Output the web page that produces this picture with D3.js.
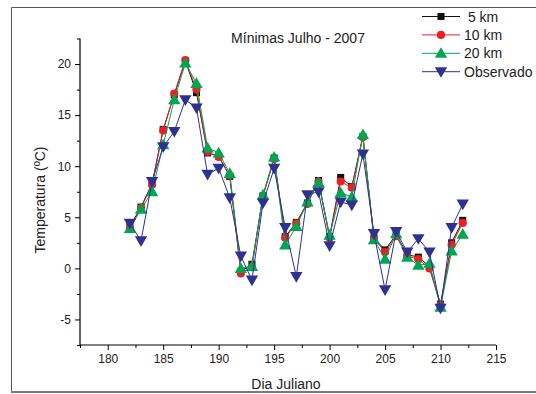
<!DOCTYPE html>
<html>
<head>
<meta charset="utf-8">
<script src="https://cdn.jsdelivr.net/npm/d3@7"></script>
<style>
  html, body { margin: 0; padding: 0; background: #fff; }
  svg { display: block; font-family: "Liberation Sans", Arial, sans-serif; }
</style>
</head>
<body>
<svg id="chart" width="536" height="394"></svg>
<script>
// Julian days of July 2007
const days = [182,183,184,185,186,187,188,189,190,191,192,193,194,195,196,197,
              198,199,200,201,202,203,204,205,206,207,208,209,210,211,212];

// Minimum temperature (ºC) per run and observed
const km5  = [4.1,6.0,8.3,13.6,17.0,20.3,17.2,11.3,11.0,9.0,-0.3,0.4,7.1,10.8,3.1,4.5,
              6.4,8.6,3.1,8.9,8.0,12.9,3.0,1.8,3.3,1.35,1.1,0.2,-3.5,2.5,4.7];
const km10 = [3.9,5.9,8.2,13.5,17.1,20.4,17.5,11.4,10.9,9.1,-0.5,0.1,7.1,10.7,3.0,4.4,
              6.3,8.5,3.0,8.5,7.9,12.85,2.9,1.6,3.15,1.2,0.9,0.0,-3.6,2.3,4.45];
const km20 = [3.9,5.8,7.5,12.1,16.5,20.1,18.1,11.8,11.3,9.3,0.0,0.2,7.2,10.9,2.3,4.1,
              6.5,8.4,3.25,7.4,7.0,13.1,2.8,0.9,3.4,1.1,0.3,0.5,-3.8,1.7,3.35];
const observado = [4.4,2.7,8.5,11.9,13.4,16.5,15.7,9.2,9.8,6.9,1.2,-1.15,6.4,9.8,4.0,-0.8,
              7.2,7.5,2.2,6.5,6.2,11.2,3.4,-2.1,3.6,1.6,2.9,1.6,-3.9,4.0,6.3];

const seriesNames = ["\u00a05 km", "10 km", "20 km", "Observado"];
const xTicks = [180,185,190,195,200,205,210,215];
const yTicks = [-5,0,5,10,15,20];

const series = [
  { name: seriesNames[0], values: km5,       color: "#111111", symbol: d3.symbolSquare,   size: 50, rot: 0 },
  { name: seriesNames[1], values: km10,      color: "#ee1c24", symbol: d3.symbolCircle,   size: 52, rot: 0 },
  { name: seriesNames[2], values: km20,      color: "#00a651", symbol: d3.symbolTriangle, size: 66, rot: 0 },
  { name: seriesNames[3], values: observado, color: "#2e3192", symbol: d3.symbolTriangle, size: 66, rot: 180 }
];

const svg = d3.select("#chart");

// outer frame
svg.append("path")
  .attr("d", "M11.5,392 L11.5,7.5 L536,7.5")
  .attr("fill", "none").attr("stroke", "#555").attr("stroke-width", 1);
svg.append("line")
  .attr("x1", 11).attr("x2", 536).attr("y1", 392).attr("y2", 392)
  .attr("stroke", "#7a7a7a").attr("stroke-width", 2);

const plotLeft = 80, plotRight = 496, plotTop = 38.5, plotBottom = 345;
const x = d3.scaleLinear().domain([177.5, 215]).range([plotLeft, plotRight]);
const y = d3.scaleLinear().domain([-7.5, 22.5]).range([plotBottom, plotTop]);

// plain hyphen for negative tick labels
const fmt = v => String(v);

// axes: major ticks with labels, minor ticks between
const xMinor = d3.range(177.5, 215.01, 2.5).filter(v => v % 5 !== 0);
const yMinor = d3.range(-7.5, 22.51, 2.5).filter(v => v % 5 !== 0);

const gx = svg.append("g").attr("transform", `translate(0,${plotBottom})`);
gx.call(d3.axisBottom(x).tickValues(xTicks).tickSize(5).tickPadding(4).tickFormat(fmt));
gx.append("g").call(d3.axisBottom(x).tickValues(xMinor).tickSize(3).tickFormat(""));

const gy = svg.append("g").attr("transform", `translate(${plotLeft},0)`);
gy.call(d3.axisLeft(y).tickValues(yTicks).tickSize(5).tickPadding(4).tickFormat(fmt));
gy.append("g").call(d3.axisLeft(y).tickValues(yMinor).tickSize(3).tickFormat(""));

svg.selectAll(".domain").remove();
svg.append("line").attr("x1", plotLeft).attr("x2", plotRight).attr("y1", plotBottom).attr("y2", plotBottom)
  .attr("stroke", "#000").attr("stroke-width", 1.2);
svg.append("line").attr("x1", plotLeft).attr("x2", plotLeft).attr("y1", plotTop).attr("y2", plotBottom)
  .attr("stroke", "#000").attr("stroke-width", 1.2);

svg.selectAll(".tick line").attr("stroke", "#000");
svg.selectAll(".tick text").attr("font-size", 12).attr("fill", "#222")
  .attr("font-family", "Liberation Sans, Arial, sans-serif");

// titles
svg.append("text").attr("x", 298).attr("y", 43).attr("text-anchor", "middle")
  .attr("font-size", 14).attr("fill", "#222").text("Mínimas Julho - 2007");
svg.append("text").attr("x", 286).attr("y", 389).attr("text-anchor", "middle")
  .attr("font-size", 14).attr("fill", "#222").text("Dia Juliano");
svg.append("text").attr("transform", "translate(45,200) rotate(-90)").attr("text-anchor", "middle")
  .attr("font-size", 14).attr("fill", "#222").text("Temperatura (ºC)");

// series lines and markers
const line = d3.line().x((d, i) => x(days[i])).y(d => y(d));
series.forEach(s => {
  const g = svg.append("g");
  g.append("path").attr("d", line(s.values)).attr("fill", "none")
    .attr("stroke", s.color).attr("stroke-width", 1);
  const sym = d3.symbol().type(s.symbol).size(s.size);
  g.selectAll("path.m").data(s.values).join("path").attr("class", "m")
    .attr("d", sym)
    .attr("transform", (d, i) => `translate(${x(days[i])},${y(d) + (s.rot ? -1 : (s.symbol === d3.symbolTriangle ? 1 : 0))}) rotate(${s.rot})`)
    .attr("fill", s.color);
});

// legend
const lg = svg.append("g");
series.forEach((s, i) => {
  const yy = 16.5 + i * 18.4;
  lg.append("line").attr("x1", 422).attr("x2", 460).attr("y1", yy).attr("y2", yy)
    .attr("stroke", s.color).attr("stroke-width", 1);
  const sym = d3.symbol().type(s.symbol).size(s.size);
  lg.append("path").attr("d", sym)
    .attr("transform", `translate(441,${yy + (s.rot ? -1 : (s.symbol === d3.symbolTriangle ? 1 : 0))}) rotate(${s.rot})`)
    .attr("fill", s.color);
  lg.append("text").attr("x", 464).attr("y", yy + 5).attr("font-size", 14)
    .attr("fill", "#222").text(s.name);
});
</script>
</body>
</html>
